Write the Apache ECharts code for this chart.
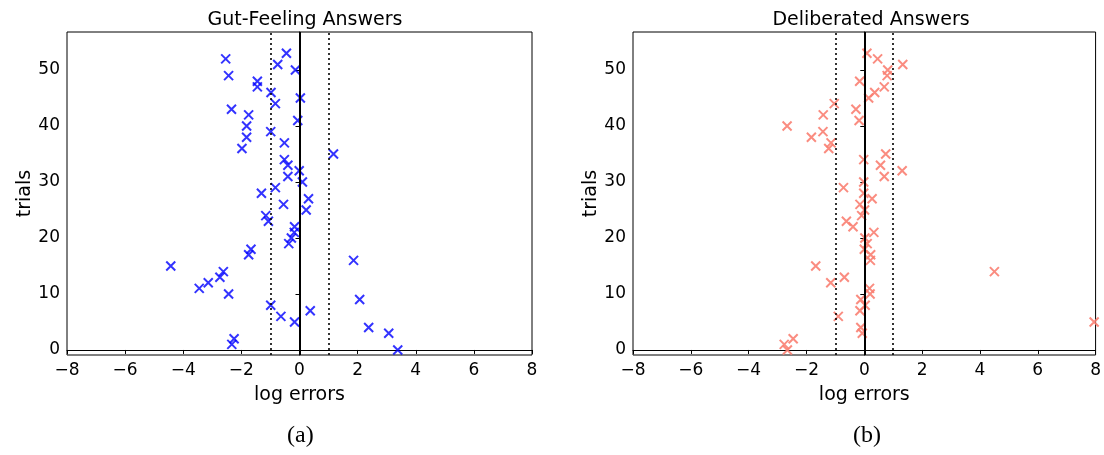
<!DOCTYPE html>
<html>
<head>
<meta charset="utf-8">
<title>log errors</title>
<script src="https://cdn.jsdelivr.net/npm/echarts@6/dist/echarts.min.js"></script>
<style>
    html, body { margin: 0; padding: 0; background: #fff; }
    #chart { width: 1104px; height: 455px; }
</style>
</head>
<body>
<div id="chart"></div>
<script>
    // trial index 0..53, one answer per trial
    var trials = [];
    for (var i = 0; i < 54; i++) trials.push(i);

    // log errors, trial 0 first
    var gutErrors = [
        3.38, -2.33, -2.25, 3.07, 2.38, -0.17, -0.64, 0.37, -0.99, 2.07,
        -2.44, -3.45, -3.14, -2.74, -2.62, -4.43, 1.86, -1.75, -1.67, -0.37,
        -0.28, -0.18, -0.17, -1.07, -1.16, 0.23, -0.55, 0.31, -1.31, -0.83,
        0.10, -0.40, -0.01, -0.40, -0.52, 1.17, -1.98, -0.52, -1.82, -0.99,
        -1.82, -0.06, -1.75, -2.34, -0.83, 0.03, -0.98, -1.45, -1.45, -2.44,
        -0.14, -0.75, -2.54, -0.45
    ];
    var deliberatedErrors = [
        -2.66, -2.77, -2.46, -0.07, -0.12, 7.95, -0.90, -0.15, 0.03, -0.12,
        0.20, 0.18, -1.16, -0.69, 4.50, -1.68, 0.21, 0.22, 0.00, 0.10,
        0.02, 0.33, -0.39, -0.62, -0.09, 0.01, -0.15, 0.27, -0.02, -0.72,
        -0.02, 0.69, 1.31, 0.56, -0.02, 0.74, -1.23, -1.15, -1.83, -1.43,
        -2.67, -0.18, -1.42, -0.29, -1.04, 0.15, 0.36, 0.69, -0.16, 0.79,
        0.81, 1.33, 0.46, 0.09
    ];

    var xTicks = [-8, -6, -4, -2, 0, 2, 4, 6, 8];
    var yTicks = [0, 10, 20, 30, 40, 50];
    var panelTitles = ['Gut-Feeling Answers', 'Deliberated Answers'];
    var captions = ['(a)', '(b)'];
    var refLines = [-1, 0, 1];

    var font = 'DejaVu Sans';
    var crossPath = 'path://M0,0L10,10M10,0L0,10';

    function pairs(xs) {
        return xs.map(function (x, k) { return [x, trials[k]]; });
    }

    function minus(v) {
        return String(v).replace('-', '\u2212');
    }

    var grids = [
        {left: 67, top: 32, width: 465, height: 323},
        {left: 633, top: 32, width: 465, height: 323}
    ];

    function makeX(idx) {
        return {
            type: 'value', gridIndex: idx, min: -8, max: 8, interval: 2,
            name: 'log errors', nameLocation: 'middle', nameGap: 31,
            nameTextStyle: {fontFamily: font, fontSize: 19, color: '#000'},
            axisLine: {lineStyle: {color: '#000', width: 1}},
            axisTick: {length: 4, lineStyle: {color: '#000'}},
            axisLabel: {fontFamily: font, fontSize: 17, color: '#000', margin: 7, formatter: minus},
            splitLine: {show: false}
        };
    }

    function makeY(idx) {
        return {
            type: 'value', gridIndex: idx, min: -0.9, max: 56.8,
            name: 'trials', nameLocation: 'middle', nameGap: 29,
            nameTextStyle: {fontFamily: font, fontSize: 19, color: '#000'},
            axisLine: {lineStyle: {color: '#000', width: 1}},
            axisTick: {length: 4, customValues: yTicks, lineStyle: {color: '#000'}},
            axisLabel: {fontFamily: font, fontSize: 17, color: '#000', margin: 7, customValues: yTicks},
            splitLine: {show: false}
        };
    }

    function refMarks() {
        return {
            silent: true, symbol: 'none', label: {show: false},
            data: refLines.map(function (v) {
                return {
                    xAxis: v,
                    lineStyle: v === 0 ? {color: '#000', width: 2, type: 'solid'}
                                       : {color: '#000', width: 1.6, type: [2, 3]}
                };
            })
        };
    }

    var option = {
        backgroundColor: '#fff',
        animation: false,
        title: panelTitles.map(function (t, k) {
            return {
                text: t, left: k === 0 ? 300 : 866, top: 6, textAlign: 'center',
                textStyle: {fontFamily: font, fontSize: 19, fontWeight: 'normal', color: '#000'}
            };
        }),
        grid: grids.map(function (g) {
            return Object.assign({show: true, borderColor: '#000', borderWidth: 1, backgroundColor: '#fff'}, g);
        }),
        xAxis: [makeX(0), makeX(1)],
        yAxis: [makeY(0), makeY(1)],
        series: [
            {
                type: 'scatter', xAxisIndex: 0, yAxisIndex: 0,
                data: pairs(gutErrors),
                symbol: crossPath, symbolSize: 9,
                itemStyle: {color: '#0000ff', borderColor: '#0000ff', borderWidth: 2},
                markLine: refMarks()
            },
            {
                type: 'scatter', xAxisIndex: 1, yAxisIndex: 1,
                data: pairs(deliberatedErrors),
                symbol: crossPath, symbolSize: 9,
                itemStyle: {color: '#fa8072', borderColor: '#fa8072', borderWidth: 2, opacity: 0.9},
                markLine: refMarks()
            }
        ],
        graphic: captions.map(function (c, k) {
            return {
                type: 'text', left: (k === 0 ? 300 : 866) - 13, top: 424,
                style: {text: c, font: '24px "Liberation Serif"', fill: '#000'}
            };
        })
    };

    var chart = echarts.init(document.getElementById('chart'));
    chart.setOption(option);
</script>
</body>
</html>
